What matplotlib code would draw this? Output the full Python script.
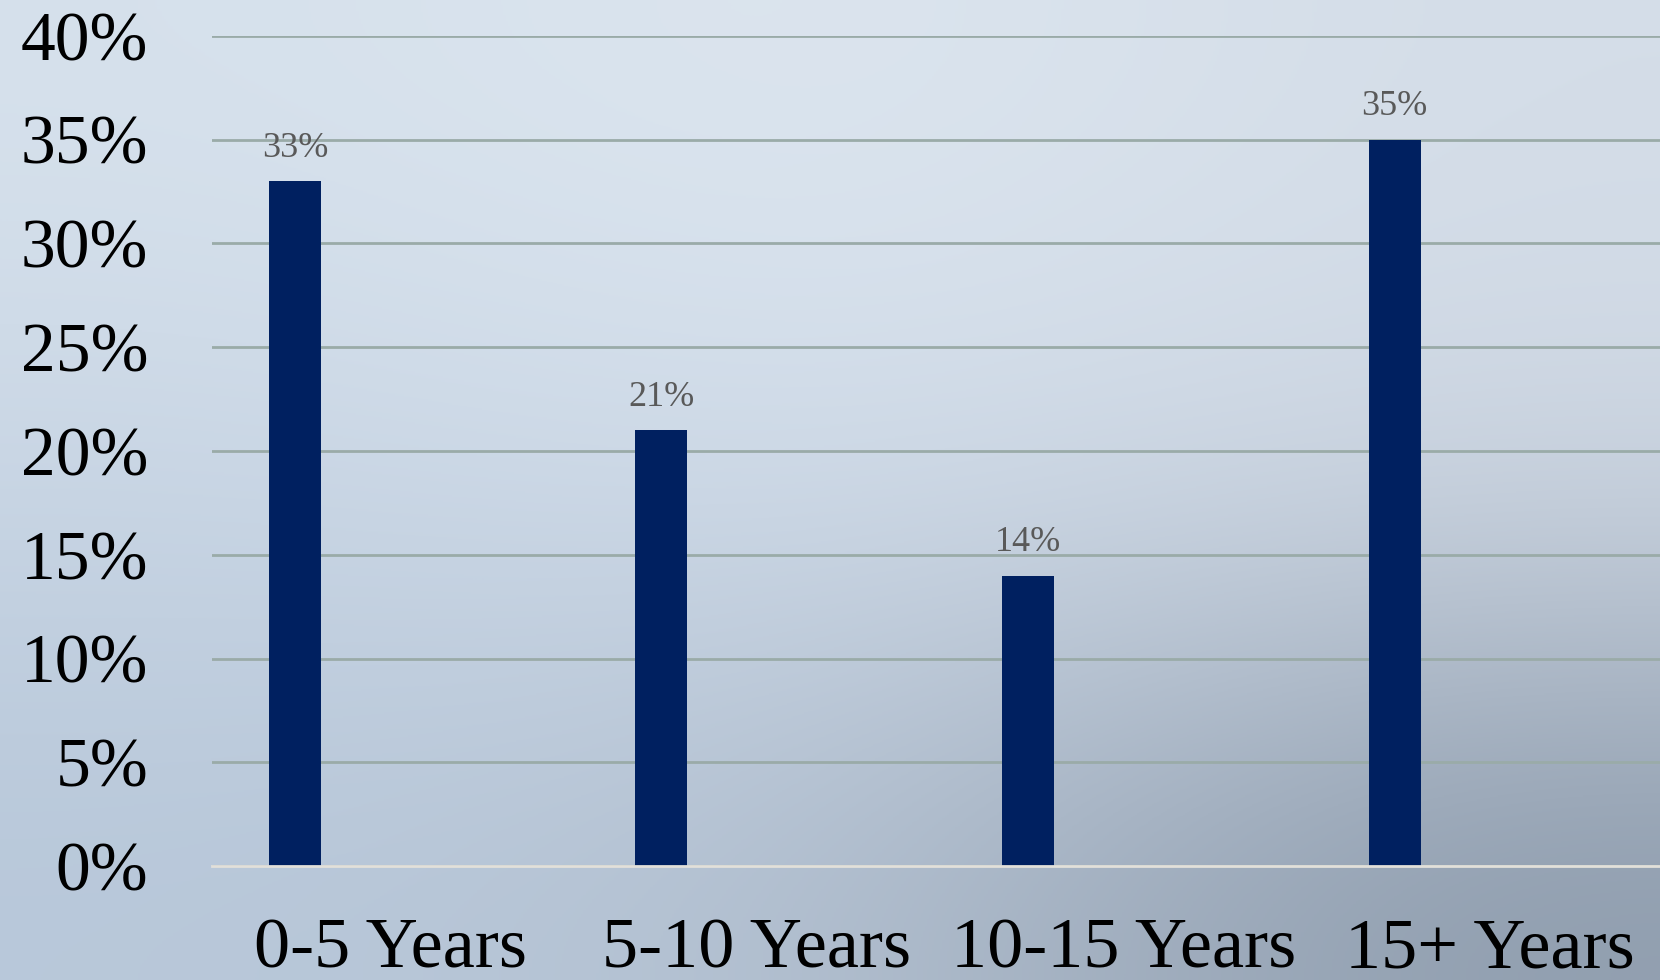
import numpy as np
import matplotlib
matplotlib.use("Agg")
from matplotlib import pyplot as plt
from matplotlib.colors import to_rgb

# chart data
categories = ["0-5 Years", "5-10 Years", "10-15 Years", "15+ Years"]
shares = [0.33, 0.21, 0.14, 0.35]
yticks = [0.0, 0.05, 0.10, 0.15, 0.20, 0.25, 0.30, 0.35, 0.40]

plt.rcParams['font.family'] = ['Liberation Serif', 'DejaVu Serif']

fig = plt.figure(figsize=(16.6, 9.8), dpi=100)

# cloudy grey-blue backdrop, approximated by a soft colour grid
bg_colors = [['#d6e1ec', '#dee7f0', '#d4dde8'],
             ['#c8d5e4', '#d0dcea', '#cdd6e2'],
             ['#b8c8da', '#b3c0d0', '#8e9cad']]
bg_img = np.array([[to_rgb(c) for c in row] for row in bg_colors])
bg = fig.add_axes([0, 0, 1, 1], zorder=0)
bg.imshow(bg_img, aspect='auto', interpolation='bicubic', extent=[0, 1, 0, 1])
bg.set_axis_off()

ax = fig.add_axes([0.1277, 0.1163, 0.8723, 0.847], zorder=1)
ax.patch.set_alpha(0)

x = np.arange(len(categories))
ax.bar(x, shares, width=0.142, color='#002060', zorder=3)

for xi, v in zip(x, shares):
    ax.annotate(f"{v:.0%}", (xi, v), xytext=(0, 12), textcoords='offset points',
                ha='center', va='bottom', fontsize=26, color='#595959')

ax.set_ylim(0, 0.40)
ax.set_xlim(-0.226, 3.724)
ax.set_yticks(yticks)
ax.set_yticklabels([f"{t:.0%}" for t in yticks], fontsize=50)
ax.set_xticks(x + 0.26)
ax.set_xticklabels(categories, fontsize=52)
ax.tick_params(axis='y', length=0, pad=46)
ax.tick_params(axis='x', length=0, pad=37)

ax.grid(axis='y', color='#9aaba8', linewidth=2, zorder=1)
for s in ['top', 'right', 'left']:
    ax.spines[s].set_visible(False)
ax.spines['bottom'].set_color('#e2e0da')
ax.spines['bottom'].set_linewidth(2)
ax.spines['bottom'].set_zorder(4)

fig.savefig('out.png', dpi=100)
